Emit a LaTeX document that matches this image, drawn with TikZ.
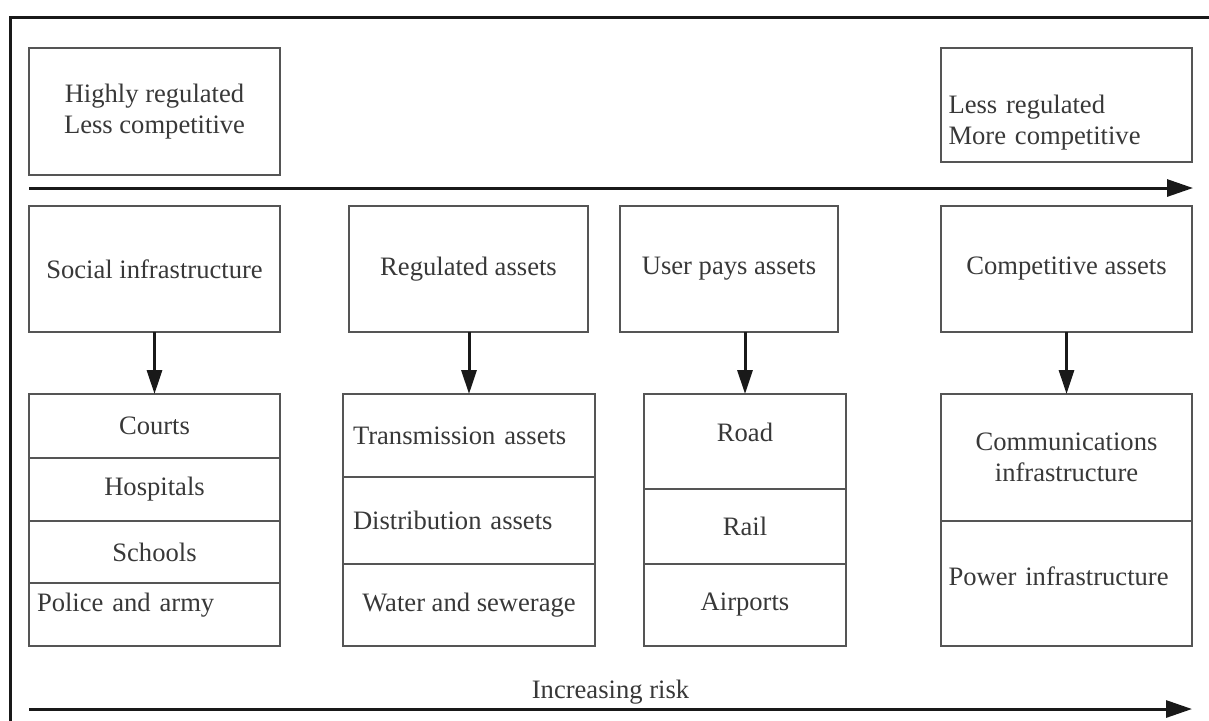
\documentclass[tikz,border=0pt]{standalone}
\usepackage{fontspec}
\setmainfont{Liberation Serif}
\usepackage{xcolor}
\usetikzlibrary{positioning,arrows.meta}

\definecolor{boxgray}{HTML}{555555}
\definecolor{txtgray}{HTML}{383838}
\newcommand{\boxfont}{\fontsize{13.3}{15.5}\selectfont}

\begin{document}
\begin{tikzpicture}[
  x=0.5pt,y=-0.5pt,
  cell/.style={draw=boxgray,line width=.75pt,outer sep=0pt,inner sep=3pt,text=txtgray,align=center,font=\boxfont},
  lcell/.style={cell,text width=#1,align=left},
  arr/.style={-{Triangle[length=12pt,width=7.5pt]},line width=1.5pt,draw=black!90},
  axis/.style={-{Triangle[length=13pt,width=8.5pt]},line width=1.5pt,draw=black!90}]
  \useasboundingbox (0,0) rectangle (1209,720);
  % outer frame, runs off the page on the right and at the bottom
  \draw[line width=1.5pt,black!90] (10,17) rectangle (1240,760);

  \node[cell,anchor=north west,minimum width=125.5pt,minimum height=63.5pt] (hireg) at (29,48) {Highly regulated\\Less competitive};
  \node[lcell=118pt,anchor=north west,minimum width=125.5pt,minimum height=57pt,text height=27pt] (loreg) at (941,48) {Less regulated\\More competitive};

  \coordinate (top0) at (29,188); \coordinate (top1) at (1193,188);
  \draw[axis] (top0) -- (top1);

  % asset classes
  \node[cell,anchor=north west,minimum width=125.5pt,minimum height=63pt] (social) at (29,206) {Social infrastructure};
  \node[cell,anchor=north west,minimum width=119.5pt,minimum height=63pt] (regulated) at (349,206) {Regulated assets};
  \node[cell,anchor=north west,minimum width=109pt,minimum height=63pt] (userpays) at (620,206) {User pays assets};
  \node[cell,anchor=north west,minimum width=125.5pt,minimum height=63pt] (competitive) at (941,206) {Competitive assets};

  % examples
  \node[cell,anchor=north west,minimum width=125.5pt,minimum height=32pt] (courts) at (29,394) {Courts};
  \node[cell,below=0pt of courts,minimum width=125.5pt,minimum height=31.5pt] (hospitals) {Hospitals};
  \node[cell,below=0pt of hospitals,minimum width=125.5pt,minimum height=31pt] (schools) {Schools};
  \node[lcell=117.5pt,below=0pt of schools,minimum width=125.5pt,minimum height=31.5pt,text depth=12pt] (police) {Police and army};

  \node[lcell=116pt,anchor=north west,minimum width=126pt,minimum height=41.5pt] (transmission) at (343,394) {Transmission assets};
  \node[lcell=116pt,below=0pt of transmission,minimum width=126pt,minimum height=43.5pt] (distribution) {Distribution assets};
  \node[cell,below=0pt of distribution,minimum width=126pt,minimum height=41pt] (water) {Water and sewerage};

  \node[cell,anchor=north west,minimum width=101pt,minimum height=47.5pt,text depth=9.5pt] (road) at (644,394) {Road};
  \node[cell,below=0pt of road,minimum width=101pt,minimum height=37.5pt] (rail) {Rail};
  \node[cell,below=0pt of rail,minimum width=101pt,minimum height=41pt] (airports) {Airports};

  \node[cell,anchor=north west,minimum width=125.5pt,minimum height=63.5pt] (comms) at (941,394) {Communications\\infrastructure};
  \node[lcell=118pt,below=0pt of comms,minimum width=125.5pt,minimum height=62.5pt,text depth=7.5pt] (power) {Power infrastructure};

  \foreach \a/\b in {social/courts,regulated/transmission,userpays/road,competitive/comms}
    \draw[arr] (\a.south -| \b.north) -- (\b.north);

  \coordinate (bot0) at (29,709); \coordinate (bot1) at (1192,709);
  \draw[axis] (bot0) -- (bot1) node[midway,above=-1.5pt,text=txtgray,font=\boxfont] (risk) {Increasing risk};
\end{tikzpicture}
\end{document}
